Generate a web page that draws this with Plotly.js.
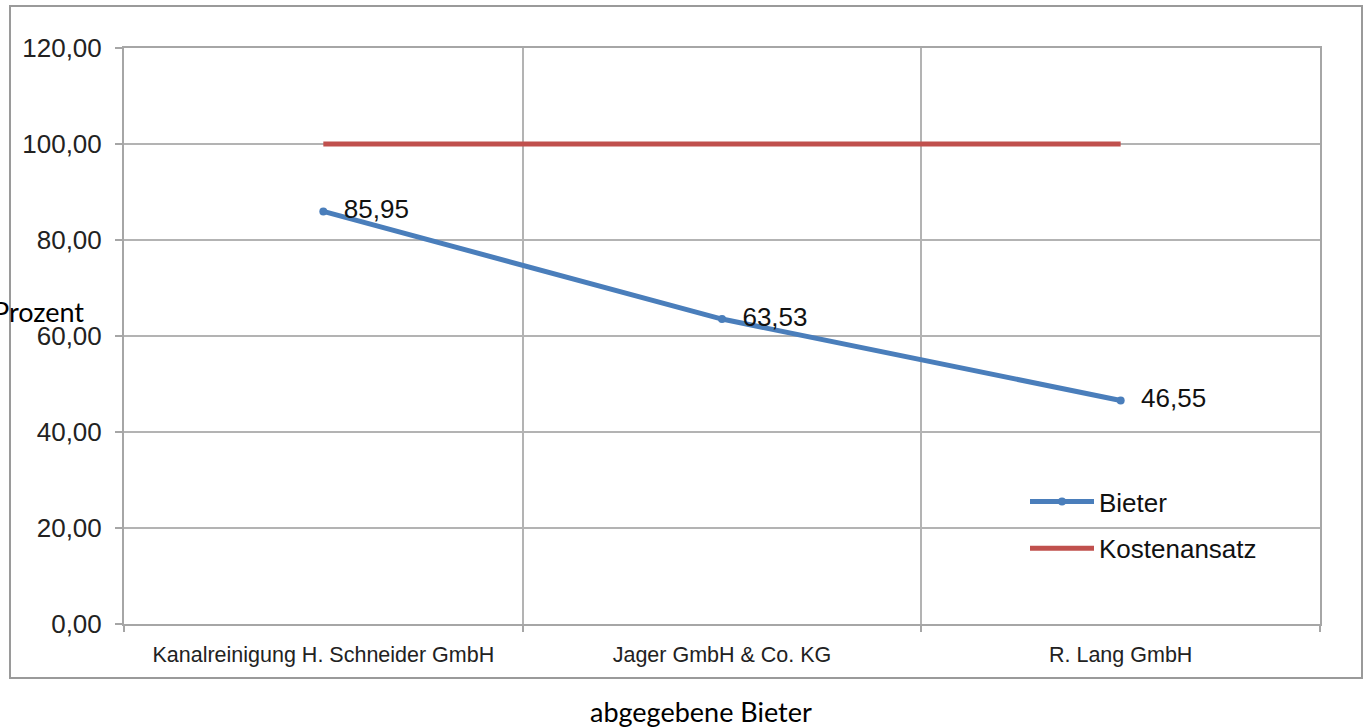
<!DOCTYPE html>
<html>
<head>
<meta charset="utf-8">
<script src="https://cdn.plot.ly/plotly-3.0.1.min.js"></script>
<style>html,body{margin:0;padding:0;background:#fff;}#chart{width:1366px;height:728px;}</style>
</head>
<body>
<div id="chart"></div>
<script>
const categories = ["Kanalreinigung H. Schneider GmbH", "Jager GmbH & Co. KG", "R. Lang GmbH"];
const bieterValues = [85.95, 63.53, 46.55];
const kostenValues = [100, 100, 100];
const bieterLabels = ["85,95", "63,53", "46,55"];
const yTickVals = [0, 20, 40, 60, 80, 100, 120];
const yTickText = ["0,00", "20,00", "40,00", "60,00", "80,00", "100,00", "120,00"];

const W = 1366, H = 728;
const L = 124, R = 46, T = 48, B = 104;
const pw = W - L - R, ph = H - T - B;
const px = x => (x - L) / pw;
const py = y => (H - B - y) / ph;

const traces = [
  {
    x: categories, y: bieterValues, name: "Bieter", type: "scatter", legendgroup: "g1",
    mode: "lines+markers+text", text: bieterLabels, textposition: "middle right",
    texttemplate: "\u00a0\u00a0%{text}",
    textfont: {family: "Liberation Sans, Arial, sans-serif", size: 26, color: "#111"},
    line: {color: "#4a7ebb", width: 5}, marker: {color: "#4a7ebb", size: 8, symbol: "circle"},
    cliponaxis: false
  },
  {
    x: categories, y: kostenValues, name: "Kostenansatz", type: "scatter", mode: "lines", legendgroup: "g2",
    line: {color: "#c0504d", width: 5}
  }
];

const layout = {
  width: W, height: H,
  margin: {l: L, r: R, t: T, b: B},
  paper_bgcolor: "#fff", plot_bgcolor: "#fff",
  separators: ",.",
  font: {family: "Liberation Sans, Arial, sans-serif", color: "#222"},
  showlegend: true,
  legend: {
    x: px(1025), y: py(478), xanchor: "left", yanchor: "top",
    font: {family: "Liberation Sans, Arial, sans-serif", size: 26, color: "#111"},
    bgcolor: "rgba(255,255,255,0)", itemwidth: 64, tracegroupgap: 10
  },
  xaxis: {
    type: "category", range: [-0.5, 2.5], tickson: "boundaries",
    ticks: "outside", ticklen: 6, tickcolor: "#a6a6a6", tickwidth: 2,
    showgrid: true, gridcolor: "#b3b3b3", gridwidth: 2,
    showline: true, linecolor: "#a6a6a6", linewidth: 2, mirror: true,
    tickfont: {family: "Liberation Sans, Arial, sans-serif", size: 21.5, color: "#222"},
    ticklabelstandoff: 10,
    zeroline: false, fixedrange: true
  },
  yaxis: {
    range: [0, 120], tickmode: "array", tickvals: yTickVals, ticktext: yTickText,
    ticks: "outside", ticklen: 7, tickcolor: "#a6a6a6", tickwidth: 2,
    showgrid: true, gridcolor: "#b3b3b3", gridwidth: 2,
    showline: true, linecolor: "#a6a6a6", linewidth: 2, mirror: true,
    tickfont: {family: "Liberation Sans, Arial, sans-serif", size: 26, color: "#222"},
    ticklabelstandoff: 8,
    zeroline: false, fixedrange: true
  },
  shapes: [
    {type: "rect", xref: "paper", yref: "paper", x0: px(10), x1: px(1362), y0: py(678), y1: py(6),
     line: {color: "#9a9a9a", width: 2}, fillcolor: "rgba(0,0,0,0)", layer: "below"}
  ],
  annotations: [
    {text: "Prozent", xref: "paper", yref: "paper", x: px(86), y: py(311), xanchor: "right", yanchor: "middle",
     showarrow: false, font: {family: "Lato, Carlito, sans-serif", size: 27, color: "#000"}},
    {text: "abgegebene Bieter", xref: "paper", yref: "paper", x: px(701), y: py(711), xanchor: "center", yanchor: "middle",
     showarrow: false, font: {family: "Lato, Carlito, sans-serif", size: 27, color: "#000"}}
  ]
};

Plotly.newPlot("chart", traces, layout, {displayModeBar: false, staticPlot: true});
</script>
</body>
</html>
